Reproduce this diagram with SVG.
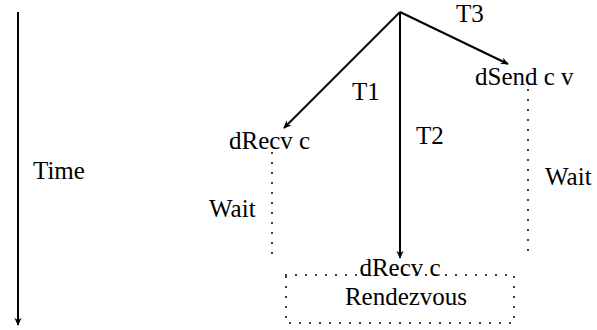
<svg xmlns="http://www.w3.org/2000/svg" width="597" height="330" viewBox="0 0 597 330">
<defs>
<marker id="ah" viewBox="0 0 10 10" refX="9" refY="5" markerWidth="8" markerHeight="8" markerUnits="userSpaceOnUse" orient="auto">
<path d="M0,0.5 L10,5 L0,9.5 L3,5 Z" fill="#000"/>
</marker>
</defs>
<style>
.t{font-family:'Liberation Serif','DejaVu Serif',serif;font-size:25px;fill:#000}
.arr{stroke:#000;stroke-width:2;fill:none;marker-end:url(#ah)}
.dot{stroke:#000;stroke-width:2;fill:none;stroke-dasharray:0 10;stroke-linecap:round}
</style>
<rect width="597" height="330" fill="#fff"/>
<g id="connectors">
<line class="arr" x1="18" y1="12" x2="18" y2="325"/>
<line class="arr" x1="400" y1="12" x2="284" y2="128"/>
<line class="arr" x1="400" y1="12" x2="400" y2="258"/>
<line class="arr" x1="400" y1="12" x2="508" y2="64"/>
<text class="t" x="352" y="100">T1</text>
<text class="t" x="416" y="144">T2</text>
<text class="t" x="456" y="22">T3</text>
</g>
<g id="time"><text class="t" x="33" y="179">Time</text></g>
<g id="t1wait">
<text class="t" x="229" y="149">dRecv c</text>
<line class="dot" x1="272" y1="153" x2="272" y2="258"/>
<text class="t" x="209" y="217">Wait</text>
</g>
<g id="t3wait">
<text class="t" x="475" y="85">dSend c v</text>
<line class="dot" x1="528" y1="90" x2="528" y2="260"/>
<text class="t" x="545" y="185">Wait</text>
</g>
<g id="rendezvous">
<path class="dot" d="M286,275 H514 V323 H286 Z"/>
<text class="t" x="400" y="276" text-anchor="middle">dRecv c</text>
<text class="t" x="406" y="305" text-anchor="middle">Rendezvous</text>
</g>
</svg>
